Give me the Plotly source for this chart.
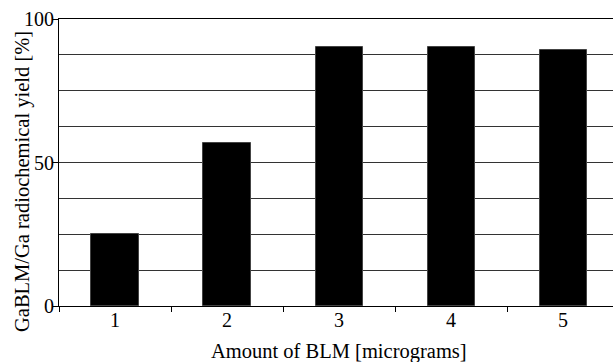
import plotly.graph_objects as go

amounts = [1, 2, 3, 4, 5]
yield_pct = [25.1, 56.7, 90.2, 90.1, 89.3]
x_tick_labels = ["1", "2", "3", "4", "5"]
y_tick_vals = [0, 50, 100]
boundaries = [0.5, 1.5, 2.5, 3.5, 4.5]
x_title = "Amount of BLM [micrograms]"
y_title = "GaBLM/Ga radiochemical yield [%]"

font = dict(family="Liberation Serif", size=20, color="black")
title_font = dict(family="Liberation Serif", size=20.5, color="black")

fig = go.Figure(go.Bar(
    x=amounts, y=yield_pct, width=0.42,
    marker=dict(color="black", line=dict(color="#444", width=1)),
))

fig.update_layout(
    width=613, height=362,
    margin=dict(l=59, r=0, t=19, b=56, autoexpand=False),
    paper_bgcolor="white", plot_bgcolor="white",
    font=font, showlegend=False,
    bargap=0,
    annotations=[
        dict(text=x_title, xref="paper", yref="paper", x=0.505, y=-0.160,
             xanchor="center", yanchor="middle", showarrow=False, font=title_font),
        dict(text=y_title, xref="paper", yref="paper", x=-0.0668, y=0.4355,
             xanchor="center", yanchor="middle", textangle=-90, showarrow=False, font=title_font),
    ],
)
fig.update_xaxes(
    range=[0.5, 5.446], tickmode="array", tickvals=amounts, ticktext=x_tick_labels,
    ticks="", showline=True, linecolor="black", linewidth=1, mirror=True,
    showgrid=False, zeroline=False, automargin=False, ticklabelstandoff=-4,
    minor=dict(tickmode="array", tickvals=boundaries, ticks="outside", ticklen=5,
               tickcolor="black", showgrid=False),
    tickfont=font,
)
fig.update_yaxes(
    range=[0, 100], tickmode="array", tickvals=y_tick_vals,
    ticks="outside", ticklen=6, tickcolor="black",
    showline=True, linecolor="black", linewidth=1,
    showgrid=True, gridcolor="#333", gridwidth=1, zeroline=False, automargin=False,
    minor=dict(dtick=12.5, tick0=0, showgrid=True, gridcolor="#333", gridwidth=1, ticks=""),
    tickfont=font, ticklabelstandoff=-6,
)

fig.write_html("out.html", config={"displayModeBar": False},
               post_script="document.body.style.margin='0';")
